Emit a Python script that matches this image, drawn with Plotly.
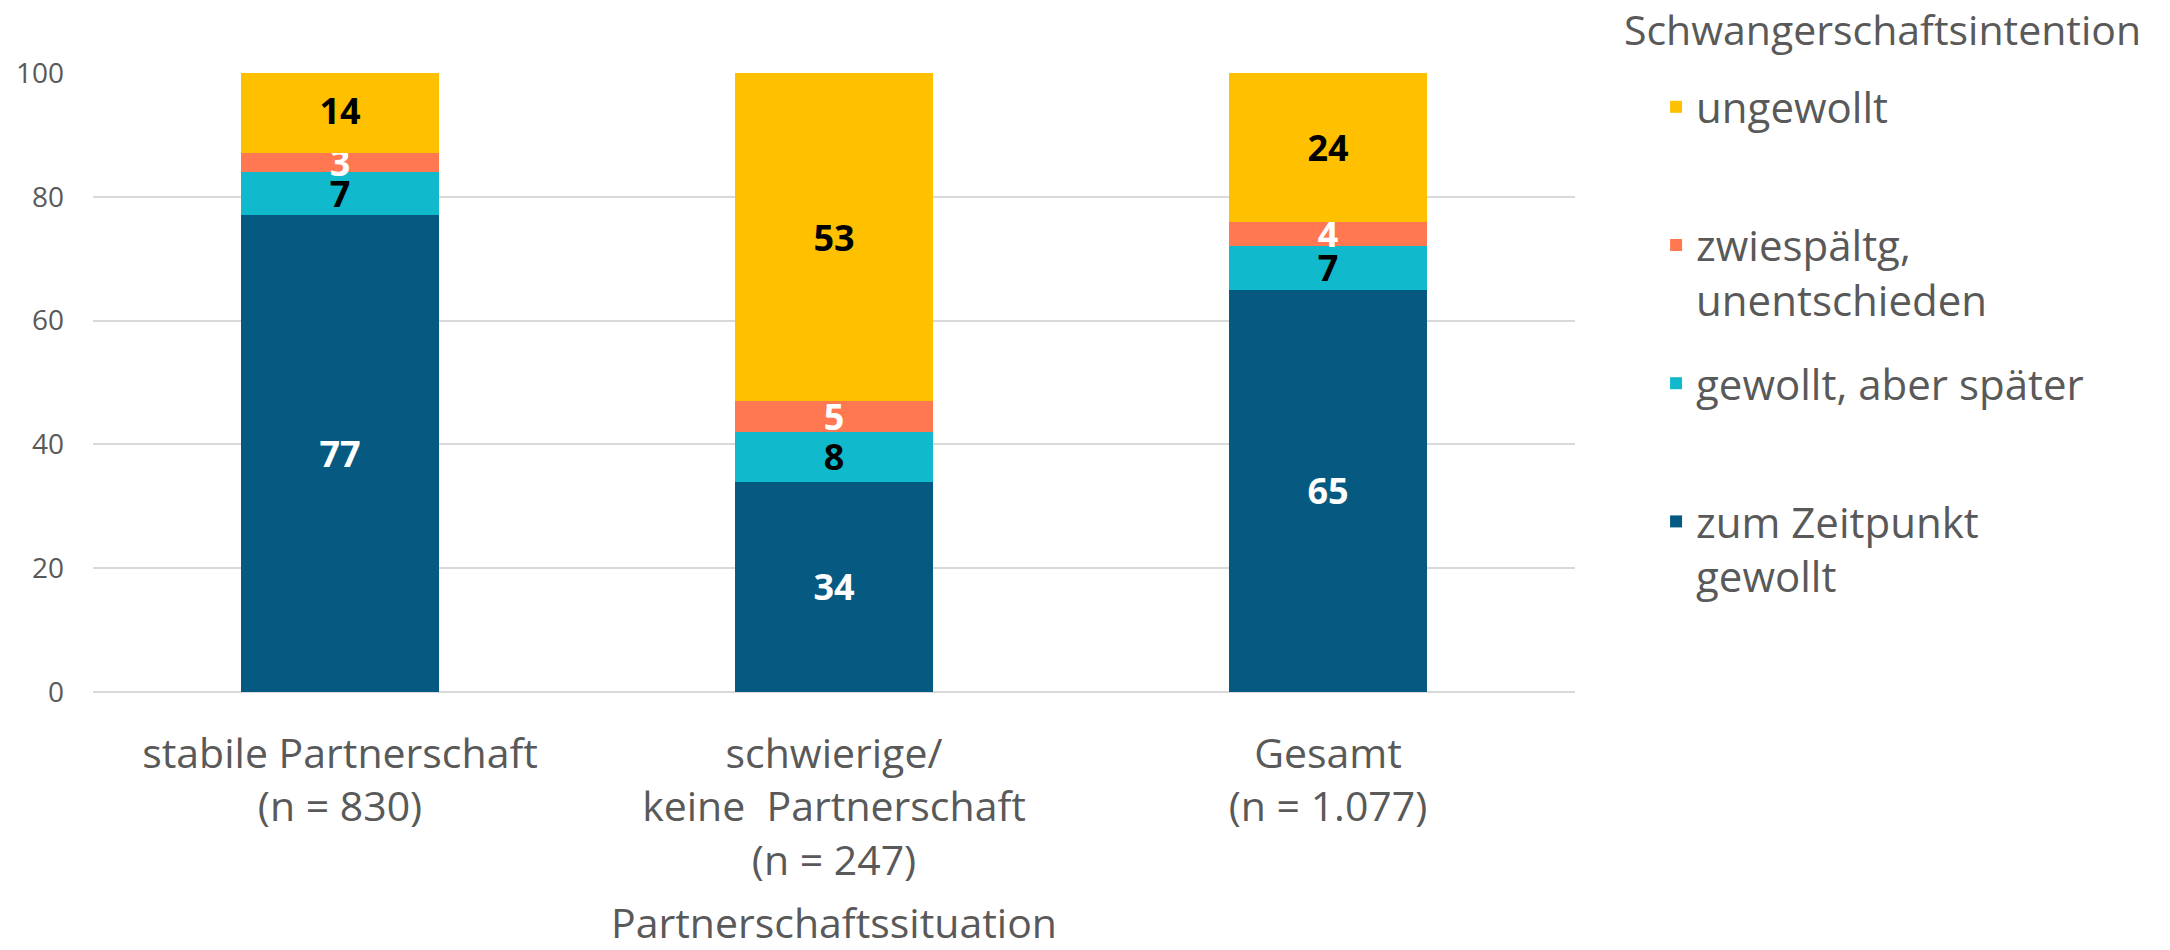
import plotly.graph_objects as go

categories = ["stabile Partnerschaft<br>(n = 830)",
              "schwierige/<br>keine  Partnerschaft<br>(n = 247)",
              "Gesamt<br>(n = 1.077)"]

series_names = ["zum Zeitpunkt<br>gewollt",
                "gewollt, aber später<br>\u00a0",
                "zwiespältg,<br>unentschieden",
                "ungewollt<br>\u00a0"]
zum_zeitpunkt = [77, 34, 65]
gewollt_spaeter = [7, 8, 7]
zwiespaeltig = [3, 5, 4]
ungewollt = [14, 53, 24]

series_values = [zum_zeitpunkt, gewollt_spaeter, zwiespaeltig, ungewollt]
colors = ["#065A82", "#10B9CC", "#FF7852", "#FFC000"]
text_colors = ["white", "black", "white", "black"]
legend_ranks = [4, 3, 2, 1]
legend_title = "Schwangerschaftsintention"
axis_title = "Partnerschaftssituation"

GRAY = "#595959"
FONT = "Open Sans"

fig = go.Figure()
for i, (name, vals) in enumerate(zip(series_names, series_values)):
    fig.add_trace(go.Bar(
        x=categories, y=vals, name=name,
        marker=dict(color=colors[i], line=dict(width=0)),
        text=vals, texttemplate="%{y}",
        textposition="inside", insidetextanchor="middle", textangle=0,
        textfont=dict(family=FONT, size=36, color=text_colors[i], weight="bold"),
        legendgroup=str(i), legendrank=legend_ranks[i],
        hoverinfo="skip",
    ))

fig.add_annotation(
    text=legend_title, xref="paper", yref="paper",
    x=1.0317, y=1.0710, xanchor="left", yanchor="middle",
    showarrow=False, font=dict(size=41, color=GRAY),
)

fig.update_layout(
    width=2170, height=950,
    margin=dict(l=93, r=595, t=73, b=258, autoexpand=False),
    barmode="stack", bargap=0.6,
    plot_bgcolor="white", paper_bgcolor="white",
    font=dict(family=FONT, color=GRAY),
    uniformtext=dict(minsize=36, mode="show"),
    showlegend=True,
    legend=dict(
        font=dict(size=42, color=GRAY),
        x=1.0547, xanchor="left", y=1.0, yanchor="top",
        traceorder="grouped", tracegroupgap=26,
        maxheight=950,
        valign="top", bgcolor="rgba(0,0,0,0)",
    ),
    xaxis=dict(
        showgrid=False, showline=False, ticks="", automargin=False,
        tickfont=dict(size=41, color=GRAY),
        ticklabelstandoff=34,
        title=dict(text=axis_title, font=dict(size=41, color=GRAY), standoff=29),
    ),
    yaxis=dict(
        range=[0, 100], tickvals=[0, 20, 40, 60, 80, 100], automargin=False,
        showgrid=True, gridcolor="#D9D9D9", gridwidth=2,
        zeroline=True, zerolinecolor="#D9D9D9", zerolinewidth=2,
        showline=False, ticks="",
        tickfont=dict(size=28, color=GRAY),
        ticklabelstandoff=28,
    ),
)

fig.write_html("out.html", config={"displayModeBar": False},
               post_script="document.body.style.margin='0';")
